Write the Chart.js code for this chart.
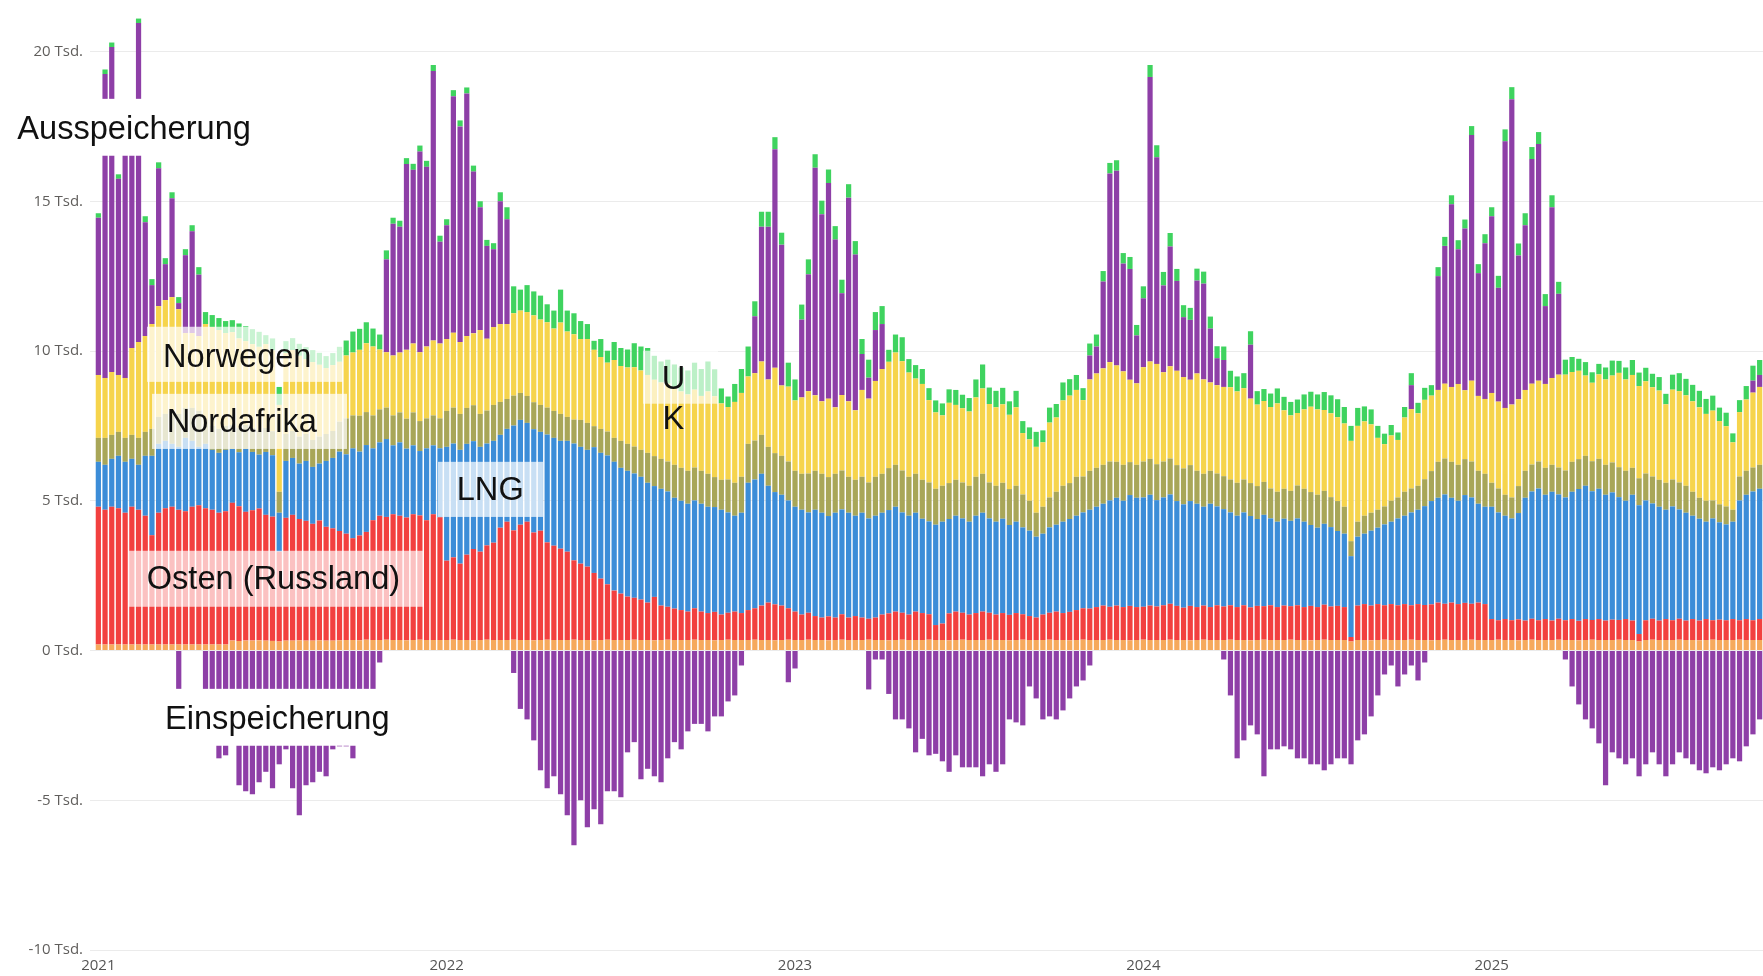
<!DOCTYPE html>
<html><head><meta charset="utf-8">
<script src="https://cdn.jsdelivr.net/npm/chart.js@4.4.1/dist/chart.umd.min.js"></script>
<style>html,body{margin:0;padding:0;background:#fff;}canvas{display:block;}</style>
</head><body>
<canvas id="c" width="1763" height="976"></canvas>
<script>
// ---- tick labels ----
const yearLabels = ['2021','2022','2023','2024','2025'];
const yearStartWeek = [0,52,104,156,208];
const firstMonday = '2021-01-04';

// ---- series values (Tsd., weekly) ----
const produktion = [
0.2,0.2,0.2,0.2,0.2,0.2,0.2,0.2,0.2,0.2, 0.2,0.2,0.2,0.2,0.2,0.2,0.2,0.2,0.2,0.2,
0.33,0.32,0.33,0.33,0.34,0.33,0.32,0.3,0.33,0.33, 0.34,0.33,0.33,0.34,0.33,0.33,0.34,0.35,0.35,0.34,
0.36,0.35,0.35,0.36,0.35,0.35,0.34,0.35,0.36,0.35, 0.35,0.35,
0.35,0.36,0.35,0.35,0.34,0.35,0.36,0.35,0.35,0.35, 0.36,0.35,0.35,0.34,0.35,0.36,0.35,0.35,0.35,0.36,
0.35,0.35,0.34,0.35,0.36,0.35,0.35,0.35,0.36,0.35, 0.35,0.34,0.35,0.36,0.35,0.35,0.35,0.36,0.35,0.35,
0.34,0.35,0.36,0.35,0.35,0.35,0.36,0.35,0.35,0.34, 0.35,0.36,
0.35,0.35,0.36,0.35,0.35,0.34,0.35,0.36,0.35,0.35, 0.35,0.36,0.35,0.35,0.34,0.35,0.36,0.35,0.35,0.35,
0.36,0.35,0.35,0.34,0.35,0.36,0.35,0.35,0.35,0.36, 0.35,0.35,0.34,0.35,0.36,0.35,0.35,0.35,0.36,0.35,
0.35,0.34,0.35,0.36,0.35,0.35,0.35,0.36,0.35,0.35, 0.34,0.35,
0.36,0.35,0.35,0.35,0.36,0.35,0.35,0.34,0.35,0.36, 0.35,0.35,0.35,0.36,0.35,0.35,0.34,0.35,0.36,0.35,
0.35,0.35,0.36,0.35,0.35,0.34,0.35,0.36,0.35,0.35, 0.35,0.3,0.35,0.35,0.34,0.35,0.36,0.35,0.35,0.35,
0.36,0.35,0.35,0.34,0.35,0.36,0.35,0.35,0.35,0.36, 0.35,0.35,
0.35,0.36,0.35,0.35,0.34,0.35,0.36,0.35,0.35,0.35, 0.36,0.35,0.35,0.34,0.35,0.36,0.35,0.35,0.35,0.36,
0.35,0.35,0.3,0.35,0.36,0.35,0.35,0.35,0.36,0.35, 0.35,0.34,0.35,0.36,0.35,0.35,0.35,0.36,0.35,0.35,
0.35
];
const osten = [
4.6,4.5,4.6,4.55,4.4,4.6,4.5,4.3,3.65,4.4, 4.55,4.6,4.5,4.45,4.6,4.65,4.55,4.5,4.4,4.45,
4.6,4.5,4.3,4.35,4.4,4.2,4.15,3.0,4.1,4.2, 4.05,4.0,3.9,4.0,3.8,3.75,3.65,3.55,3.4,3.5,
3.6,4.0,4.15,4.1,4.2,4.15,4.1,4.2,4.15,4.0, 4.2,4.1,
2.65,2.75,2.55,2.85,3.05,2.95,3.15,3.25,3.75,3.95, 3.65,3.85,3.95,3.6,3.65,3.25,3.15,3.05,2.95,2.65,
2.55,2.45,2.25,2.05,1.85,1.65,1.55,1.45,1.4,1.35, 1.25,1.45,1.15,1.1,1.05,1.0,0.95,1.05,0.95,0.9,
0.95,0.85,0.9,0.95,0.9,1.0,1.05,1.15,1.25,1.2, 1.15,1.05,
0.95,0.85,0.9,0.8,0.75,0.8,0.75,0.85,0.75,0.8, 0.75,0.7,0.75,0.85,0.9,0.95,0.9,0.85,0.95,0.9,
0.85,0.5,0.55,0.9,0.95,0.9,0.85,0.9,0.95,0.9, 0.85,0.9,0.85,0.9,0.85,0.8,0.75,0.85,0.9,0.95,
0.9,0.95,1.0,1.05,1.05,1.1,1.15,1.1,1.15,1.1, 1.15,1.1,
1.1,1.15,1.12,1.16,1.2,1.14,1.08,1.15,1.1,1.14, 1.1,1.16,1.12,1.15,1.1,1.16,1.1,1.14,1.12,1.16,
1.1,1.15,1.12,1.16,1.1,1.15,1.1,1.17,1.12,1.14, 1.1,0.15,1.15,1.2,1.16,1.2,1.15,1.2,1.16,1.2,
1.15,1.2,1.17,1.2,1.25,1.2,1.25,1.2,1.24,1.2, 1.25,1.2,
0.7,0.65,0.7,0.66,0.7,0.65,0.7,0.66,0.7,0.65, 0.7,0.66,0.7,0.65,0.7,0.66,0.7,0.65,0.68,0.66,
0.7,0.65,0.25,0.66,0.7,0.65,0.7,0.66,0.7,0.65, 0.7,0.66,0.7,0.65,0.68,0.66,0.7,0.65,0.7,0.66,
0.7
];
const lng = [
1.5,1.5,1.6,1.75,1.7,1.6,1.5,2.0,2.65,2.3, 2.25,2.1,2.1,2.45,2.2,1.95,2.15,2.0,2.0,2.05,
1.8,1.8,2.1,1.95,1.8,2.1,2.05,1.3,1.9,1.9, 1.85,2.0,1.9,1.9,2.2,2.35,2.65,2.65,3.0,2.8,
2.9,2.4,2.45,2.6,2.3,2.45,2.3,2.3,2.15,2.4, 2.3,2.3,
3.8,3.8,3.8,3.7,3.6,3.5,3.4,3.4,3.1,3.1, 3.5,3.5,3.3,3.45,3.3,3.6,3.6,3.6,3.7,3.9,
3.9,3.9,4.2,4.2,4.3,4.3,4.2,4.2,4.15,4.1, 4.0,3.7,3.9,3.85,3.7,3.65,3.6,3.6,3.6,3.55,
3.5,3.5,3.35,3.2,3.35,4.25,4.3,4.4,3.9,3.75, 3.7,3.6,
3.5,3.5,3.35,3.55,3.5,3.35,3.5,3.5,3.5,3.35, 3.5,3.35,3.4,3.4,3.45,3.5,3.35,3.3,3.3,3.15,
3.1,3.35,3.4,3.15,3.2,3.15,3.1,3.25,3.3,3.15, 3.1,3.15,3.0,3.05,2.9,2.85,2.7,2.7,2.85,2.9,
3.05,3.1,3.15,3.2,3.3,3.35,3.4,3.55,3.6,3.55, 3.7,3.65,
3.65,3.7,3.55,3.6,3.65,3.5,3.45,3.5,3.45,3.3, 3.45,3.3,3.25,3.1,3.05,3.1,3.05,2.9,3.05,2.9,
2.85,2.9,2.85,2.9,2.85,2.7,2.65,2.7,2.65,2.5, 2.45,2.7,2.3,2.35,2.5,2.55,2.7,2.75,2.9,2.95,
3.1,3.15,3.3,3.45,3.5,3.65,3.5,3.45,3.6,3.55, 3.3,3.25,
3.75,3.6,3.45,3.4,3.55,4.1,4.25,4.4,4.15,4.3, 4.15,4.1,4.25,4.4,4.45,4.3,4.35,4.2,4.25,4.1,
3.95,4.2,4.3,4.0,3.85,3.8,3.65,3.8,3.65,3.6, 3.45,3.4,3.25,3.4,3.25,3.2,3.25,4.0,4.15,4.3,
4.35
];
const nordafrika = [
0.8,0.9,0.8,0.8,0.8,0.8,0.9,0.8,0.9,0.9, 0.9,1.1,1.1,1.0,1.1,1.2,0.8,0.8,0.8,0.8,
0.8,0.8,0.8,0.8,0.8,0.8,0.8,0.7,0.9,0.9, 0.9,0.9,0.9,0.9,0.9,0.9,1.0,1.2,1.1,1.2,
1.1,1.1,1.1,1.05,1.0,1.0,1.0,1.1,1.0,1.0, 1.0,1.0,
1.2,1.2,1.2,1.2,1.2,1.1,1.1,1.2,1.1,1.0, 1.0,0.9,0.9,0.9,0.9,0.9,0.9,0.9,0.8,0.8,
0.9,0.9,0.7,0.8,0.8,0.8,0.9,0.9,0.9,0.9, 1.0,1.0,1.0,1.0,1.1,1.1,1.1,1.1,1.1,1.1,
1.0,1.0,1.1,1.1,1.2,1.3,1.3,1.3,1.3,1.3, 1.3,1.3,
1.2,1.2,1.3,1.3,1.3,1.3,1.3,1.3,1.2,1.2, 1.2,1.2,1.3,1.3,1.4,1.4,1.4,1.3,1.3,1.3,
1.3,1.2,1.2,1.2,1.2,1.2,1.2,1.3,1.3,1.2, 1.2,1.2,1.2,1.2,1.1,1.0,0.8,0.9,1.0,1.1,
1.2,1.2,1.3,1.2,1.3,1.3,1.3,1.3,1.2,1.2, 1.1,1.1,
1.2,1.2,1.2,1.2,1.2,1.2,1.2,1.2,1.1,1.1, 1.1,1.1,1.1,1.1,1.1,1.1,1.1,1.1,1.1,1.0,
1.0,1.0,1.0,1.1,1.1,1.1,1.1,1.1,1.0,1.0, 0.9,0.5,0.5,0.6,0.6,0.6,0.6,0.7,0.7,0.8,
0.8,0.8,0.9,1.0,1.2,1.2,1.2,1.2,1.2,1.2, 1.1,1.1,
0.8,0.8,0.7,0.7,0.9,0.9,0.9,0.9,0.9,0.9, 0.9,0.9,1.0,1.0,1.0,1.0,1.0,1.0,1.0,1.0,
1.0,0.9,0.9,0.9,0.9,0.9,0.9,0.9,0.9,0.9, 0.8,0.7,0.7,0.6,0.6,0.6,0.4,0.8,0.8,0.8,
0.8
];
const norwegen = [
2.1,2.0,2.1,1.9,2.0,2.9,3.2,3.2,3.5,3.7, 3.8,3.8,3.5,2.5,2.5,2.5,3.2,3.3,3.3,3.1,
3.1,3.0,2.8,2.8,2.8,2.8,2.7,2.9,2.7,2.7, 2.7,2.5,2.6,2.4,2.2,2.2,2.0,2.1,2.1,2.2,
2.3,2.3,2.0,1.85,2.0,2.0,2.3,2.3,2.3,2.4, 2.5,2.5,
2.4,2.5,2.4,2.4,2.4,2.8,2.4,2.6,2.6,2.5, 2.75,2.75,2.8,2.9,2.85,2.85,2.75,3.05,2.85,2.85,
2.7,2.8,2.55,2.4,2.3,2.6,2.5,2.55,2.65,2.65, 2.6,2.55,2.55,2.6,2.55,2.55,2.55,2.6,2.5,2.75,
2.7,2.55,2.42,2.7,2.8,2.25,2.25,2.45,2.25,2.85, 2.35,2.5,
2.35,2.55,2.75,2.52,2.42,2.62,2.22,2.52,2.52,2.32, 2.9,2.8,3.2,3.5,3.55,3.75,3.65,3.48,3.18,3.2,
2.75,2.55,2.35,2.68,2.5,2.48,2.48,2.65,2.85,2.62, 2.62,2.62,2.48,2.62,2.05,2.05,2.2,2.15,2.5,2.48,
2.85,2.92,2.9,2.55,3.05,3.15,3.22,3.32,3.22,3.12, 2.75,2.72,
3.15,3.25,3.35,2.98,3.08,3.15,3.05,2.85,3.25,3.15, 2.95,2.95,2.98,3.08,3.05,3.05,2.82,2.72,2.7,2.72,
2.95,2.62,2.52,2.42,2.65,2.85,2.85,2.7,2.8,2.8, 2.78,3.35,3.2,3.15,2.95,2.4,2.08,2.18,1.92,2.48,
2.65,2.42,2.65,2.52,2.4,2.5,2.5,2.7,2.3,2.7, 2.5,2.5,
3.0,2.9,2.9,3.1,2.9,2.7,2.7,2.7,2.8,2.9, 3.1,3.2,3.0,2.95,2.68,2.62,2.82,2.85,2.9,3.15,
3.05,3.1,3.08,3.08,2.98,2.98,2.62,3.0,3.05,3.02, 3.02,3.02,2.9,3.0,2.78,2.68,2.25,2.15,2.38,2.5,
2.6
];
const uk = [
0.15,0.15,0.15,0.15,0.15,0.15,0.15,0.2,0.2,0.2, 0.2,0.2,0.2,0.2,0.2,0.25,0.4,0.4,0.4,0.4,
0.4,0.5,0.5,0.5,0.5,0.3,0.4,0.6,0.4,0.4, 0.4,0.4,0.4,0.4,0.4,0.4,0.5,0.5,0.7,0.7,
0.7,0.6,0.5,0.3,0.2,0.2,0.2,0.2,0.2,0.2, 0.2,0.2,
0.2,0.2,0.2,0.2,0.2,0.2,0.2,0.2,0.3,0.4, 0.9,0.7,0.9,0.8,0.8,0.6,0.6,1.1,0.7,0.7,
0.6,0.5,0.3,0.6,0.4,0.6,0.6,0.6,0.8,0.8, 0.9,0.8,0.7,0.8,0.8,0.8,0.8,0.9,0.9,1.0,
0.9,0.5,0.35,0.6,0.8,1.0,0.5,0.5,0.5,0.4, 0.4,0.8,
0.7,0.5,0.5,0.45,0.45,0.45,0.45,0.45,0.45,0.45, 0.5,0.6,0.6,0.6,0.4,0.6,0.8,0.45,0.45,0.5,
0.4,0.4,0.4,0.45,0.5,0.45,0.45,0.6,0.8,0.55, 0.55,0.55,0.45,0.55,0.4,0.4,0.5,0.4,0.5,0.45,
0.6,0.55,0.5,0.4,0.4,0.4,0.35,0.35,0.35,0.35, 0.4,0.35,
0.4,0.4,0.4,0.45,0.45,0.4,0.4,0.4,0.4,0.4, 0.4,0.4,0.45,0.55,0.5,0.5,0.45,0.45,0.4,0.45,
0.5,0.45,0.45,0.45,0.5,0.5,0.5,0.6,0.6,0.6, 0.55,0.5,0.6,0.5,0.5,0.4,0.35,0.35,0.25,0.35,
0.4,0.35,0.4,0.35,0.3,0.3,0.3,0.3,0.3,0.3, 0.3,0.3,
0.3,0.4,0.4,0.4,0.4,0.4,0.4,0.4,0.4,0.4, 0.4,0.5,0.5,0.4,0.45,0.35,0.35,0.4,0.5,0.4,
0.4,0.5,0.45,0.45,0.45,0.45,0.35,0.5,0.6,0.55, 0.55,0.55,0.5,0.5,0.45,0.45,0.3,0.4,0.45,0.5,
0.5
];
const ausspeicherung = [
5.25,10.15,10.85,6.55,8.15,7.95,10.65,3.8,1.3,4.6, 1.2,3.3,0.2,2.6,3.4,2.05,0,0,0,0,
0,0,0,0,0,0,0,0,0,0, 0,0,0,0,0,0,0,0,0,0,
0,0,0,3.1,4.4,4.2,6.2,5.8,6.7,6.0, 9.0,3.4,
3.8,7.9,7.2,8.1,5.4,4.1,3.1,2.6,4.1,3.5, 0,0,0,0,0,0,0,0,0,0,
0,0,0,0,0,0,0,0,0,0, 0,0,0,0,0,0,0,0,0,0,
0,0,0,0,0,0,1.9,4.5,5.1,7.3, 4.7,0,
0,2.6,3.9,7.6,6.25,7.2,5.6,3.4,6.8,5.2, 1.2,0.7,1.7,1.5,0,0,0,0,0,0,
0,0,0,0,0,0,0,0,0,0, 0,0,0,0,0,0,0,0,0,0,
0,0,0,0,0.8,0.9,2.9,6.3,6.5,3.6, 3.7,1.6,
2.3,9.5,6.9,2.9,4.0,3.0,2.0,2.0,3.1,3.2, 1.8,0.9,0.9,0,0,0,1.8,0,0,0,
0,0,0,0,0,0,0,0,0,0, 0,0,0,0,0,0,0,0,0,0,
0.8,0,0,0,3.8,4.6,6.1,4.5,5.4,8.2, 4.1,5.2,
5.9,3.8,8.9,10.2,4.8,5.5,7.5,7.9,2.6,5.7, 2.7,0,0,0,0,0,0,0,0,0,
0,0,0,0,0,0,0,0,0,0, 0,0,0,0,0,0,0,0,0,0.4,
0.4
];
const einspeicherung = [
0,0,0,0,0,0,0,0,0,0, 0,0,-1.6,0,0,0,-2.2,-2.6,-3.6,-3.5,
-2.8,-4.5,-4.7,-4.8,-4.4,-4.05,-4.6,-3.8,-3.3,-4.6, -5.5,-4.5,-4.4,-4.05,-4.2,-3.3,-3.2,-3.2,-3.6,-2.5,
-2.2,-1.6,-0.4,0,0,0,0,0,0,0, 0,0,
0,0,0,0,0,0,0,0,0,0, -0.75,-1.95,-2.3,-3.0,-4.0,-4.6,-4.2,-4.8,-5.5,-6.5,
-5.0,-5.9,-5.3,-5.8,-4.7,-4.7,-4.9,-3.4,-3.06,-4.3, -3.95,-4.2,-4.4,-3.6,-3.06,-3.3,-2.7,-2.45,-2.45,-2.7,
-2.2,-2.2,-1.7,-1.5,-0.5,0,0,0,0,0, 0,-1.06,
-0.6,0,0,0,0,0,0,0,0,0, 0,-1.3,-0.3,-0.3,-1.45,-2.3,-2.3,-2.6,-3.4,-2.95,
-3.5,-3.45,-3.7,-4.05,-3.5,-3.9,-3.9,-3.9,-4.2,-3.8, -4.05,-3.8,-2.3,-2.4,-2.5,-1.2,-1.6,-2.3,-2.2,-2.3,
-2.0,-1.6,-1.2,-1.0,-0.5,0,0,0,0,0, 0,0,
0,0,0,0,0,0,0,0,0,0, 0,0,-0.3,-1.5,-3.6,-3.0,-2.5,-2.8,-4.2,-3.3,
-3.3,-3.2,-3.3,-3.6,-3.6,-3.8,-3.8,-4.0,-3.8,-3.6, -3.6,-3.8,-3.0,-2.8,-2.2,-1.5,-0.8,-0.5,-1.2,-0.8,
-0.5,-1.0,-0.4,0,0,0,0,0,0,0, 0,0,
0,0,0,0,0,0,0,0,0,0, 0,-0.3,-1.2,-1.8,-2.3,-2.6,-3.1,-4.5,-3.4,-3.6,
-3.8,-3.6,-4.2,-3.8,-3.4,-3.8,-4.2,-3.8,-3.4,-3.6, -3.8,-4.0,-4.1,-3.9,-4.0,-3.8,-3.6,-3.7,-3.2,-2.8,
-2.3
];

// ---- categories: one per week ----
const weeks = [];
{
  const t0 = Date.parse(firstMonday + 'T00:00:00Z');
  for (let i = 0; i < produktion.length; i++) {
    weeks.push(new Date(t0 + i * 7 * 86400000).toISOString().slice(0, 10));
  }
}

// ---- text annotations (positions in data units: week index / Tsd.) ----
const annotations = [
  { box: [-13.2, 24.4, 18.42, 16.52], alpha: 1.0,  lines: [{ t: 'Ausspeicherung', x: -12.1, y: 17.08 }] },
  { box: [7.26, 36.52, 10.81, 8.97],  alpha: 0.72, lines: [{ t: 'Norwegen', x: 9.65, y: 9.46 }] },
  { box: [8.01, 37.12, 8.57, 6.73],   alpha: 0.72, lines: [{ t: 'Nordafrika', x: 10.2, y: 7.29 }] },
  { box: [50.7, 66.37, 6.30, 4.46],   alpha: 0.72, lines: [{ t: 'LNG', x: 53.5, y: 5.01 }] },
  { box: [4.43, 48.46, 3.33, 1.46],   alpha: 0.68, lines: [{ t: 'Osten (Russland)', x: 7.22, y: 2.06 }] },
  { box: [81.3, 92.5, 10.01, 8.24],   alpha: 0.65, lines: [{ t: 'U', x: 84.1, y: 8.74 }, { t: 'K', x: 84.2, y: 7.40 }] },
  { box: [7.71, 45.0, -1.28, -3.18],  alpha: 1.0,  lines: [{ t: 'Einspeicherung', x: 9.95, y: -2.62 }] }
];

const annotationPlugin = {
  id: 'textLabels',
  afterDatasetsDraw(chart) {
    const { ctx } = chart;
    const xs = chart.scales.x, ys = chart.scales.y;
    ctx.save();
    annotations.forEach(a => {
      const x0 = xs.getPixelForValue(a.box[0]), x1 = xs.getPixelForValue(a.box[1]);
      const y0 = ys.getPixelForValue(a.box[2]), y1 = ys.getPixelForValue(a.box[3]);
      ctx.fillStyle = 'rgba(255,255,255,' + a.alpha + ')';
      ctx.fillRect(x0, y0, x1 - x0, y1 - y0);
      ctx.fillStyle = '#111';
      ctx.font = '32.6px "Liberation Sans", Arial, sans-serif';
      ctx.textAlign = 'left';
      ctx.textBaseline = 'alphabetic';
      a.lines.forEach(l => ctx.fillText(l.t, xs.getPixelForValue(l.x), ys.getPixelForValue(l.y)));
    });
    ctx.restore();
  }
};

const mk = (label, data, color) => ({
  label, data, backgroundColor: color, borderWidth: 0, stack: 's',
  barPercentage: 0.78, categoryPercentage: 1.0
});

new Chart(document.getElementById('c'), {
  type: 'bar',
  data: {
    labels: weeks,
    datasets: [
      mk('Produktion', produktion, '#f6a95c'),
      mk('Osten (Russland)', osten, '#f2403f'),
      mk('LNG', lng, '#3c8dd8'),
      mk('Nordafrika', nordafrika, '#a8a658'),
      mk('Norwegen', norwegen, '#f6d44c'),
      mk('Ausspeicherung', ausspeicherung, '#8e3fa7'),
      mk('UK', uk, '#3fd35f'),
      mk('Einspeicherung', einspeicherung, '#8e3fa7')
    ]
  },
  options: {
    responsive: false,
    animation: false,
    devicePixelRatio: 1,
    layout: { padding: 0 },
    plugins: { legend: { display: false }, tooltip: { enabled: false }, title: { display: false } },
    scales: {
      x: {
        stacked: true,
        grid: { display: false, drawTicks: false },
        border: { display: false },
        ticks: {
          autoSkip: false, maxRotation: 0, minRotation: 0, padding: 7,
          color: '#555', font: { family: '"Open Sans", sans-serif', size: 15 },
          callback: (v, i) => { const k = yearStartWeek.indexOf(i); return k >= 0 ? yearLabels[k] : ''; }
        },
        afterFit: s => { s.height = 26; s.paddingLeft = 0; s.paddingRight = 0; }
      },
      y: {
        stacked: true,
        min: -10, max: 21.72,
        grid: { color: '#ebebeb', lineWidth: 1, tickLength: 5 },
        border: { display: false },
        ticks: {
          stepSize: 5, includeBounds: false, padding: 7,
          color: '#605e5c', font: { family: '"Open Sans", sans-serif', size: 15 },
          callback: v => v + ' Tsd.'
        },
        afterFit: s => { s.width = 95; s.paddingTop = 0; s.paddingBottom = 0; }
      }
    }
  },
  plugins: [annotationPlugin]
});
</script>
</body></html>
